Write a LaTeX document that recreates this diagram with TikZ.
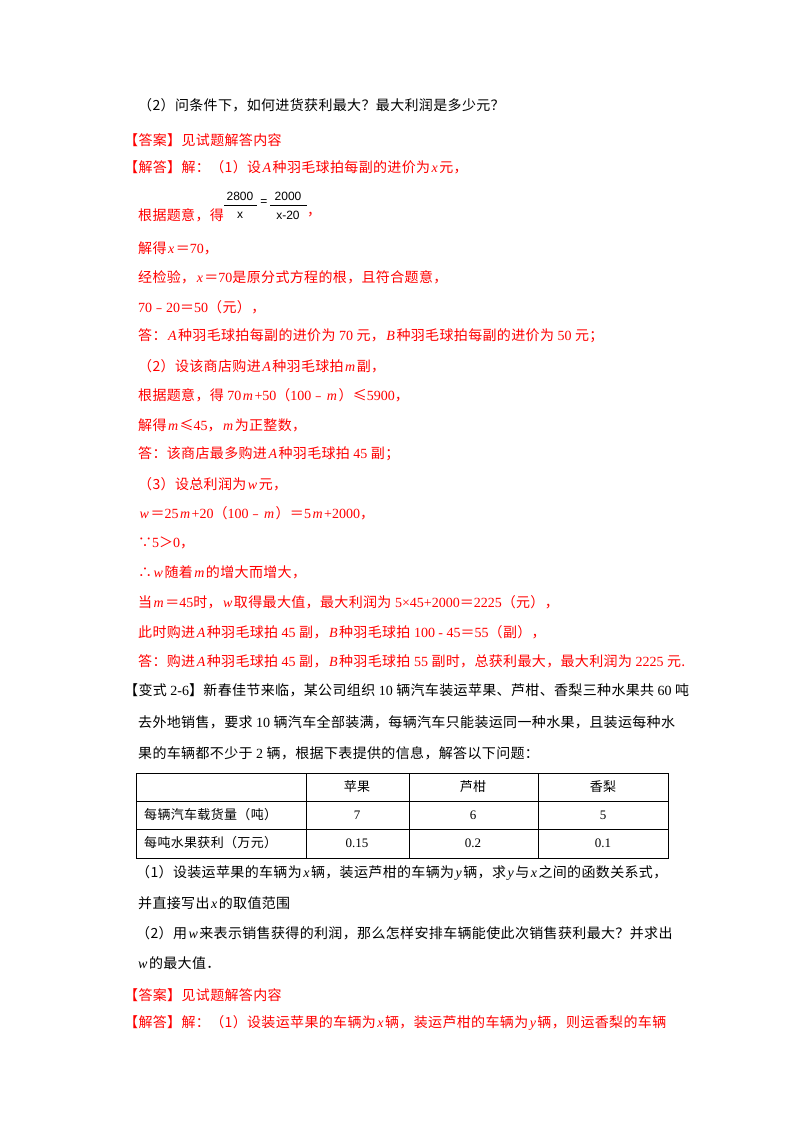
\documentclass[tikz,border=0pt]{standalone}
\usepackage{fontspec}
\setmainfont[LetterSpace=2.5]{Noto Sans CJK SC}
\newfontfamily\tn{Liberation Serif}
\newfontfamily\sn{Liberation Sans}
\newcommand\I[1]{\kern1.5pt{\tn\itshape #1}\kern1.5pt}
\newcommand\N[1]{{\tn #1}}
\definecolor{ans}{RGB}{255,0,0}
\tikzset{ln/.style={anchor=west,inner sep=0pt,font=\fontsize{14}{16}\selectfont},
 rd/.style={ln,text=ans}, cell/.style={inner sep=0pt,font=\fontsize{13}{15}\selectfont}}
\begin{document}
\begin{tikzpicture}[x=1pt,y=-1pt]
\useasboundingbox (0,0) rectangle (800,1132);
\node[ln] (l1) at (138,105) {（2）问条件下，如何进货获利最大？最大利润是多少元？};
\node[rd] (l2) at (124,140) {【答案】见试题解答内容};
\node[rd] (l3) at (124,167) {【解答】解：（1）设\I{A}种羽毛球拍每副的进价为\I{x}元，};
\node[rd] (l4) at (138,215) {根据题意，得};
\begin{scope}[every node/.style={inner sep=0pt,font=\sn\fontsize{12}{14}\selectfont}]
\node (n1) at (240,196) {2800};
\node (d1) at (240,215) {x};
\node (eq) at (264,203) {=};
\node (n2) at (288,196) {2000};
\node (d2) at (288,215) {x-20};
\node[text=ans,font=\fontsize{14}{16}\selectfont] (cm) at (314,215) {，};
\draw[line width=0.6pt] (224,205) -- (257,205) (270,205) -- (307,205);
\end{scope}
\node[rd] at (138,248) {解得\I{x}＝\N{70}，};
\node[rd] at (138,277) {经检验，\I{x}＝\N{70}是原分式方程的根，且符合题意，};
\node[rd] at (138,307) {\N{70}﹣\N{20}＝\N{50}（元），};
\node[rd] at (138,336) {答：\I{A}种羽毛球拍每副的进价为\N{ 70 }元，\I{B}种羽毛球拍每副的进价为\N{ 50 }元；};
\node[rd] at (138,366) {（2）设该商店购进\I{A}种羽毛球拍\I{m}副，};
\node[rd] at (138,395) {根据题意，得\N{ 70}\I{m}\N{+50}（\N{100}﹣\I{m}）≤\N{5900}，};
\node[rd] at (138,425) {解得\I{m}≤\N{45}，\I{m}为正整数，};
\node[rd] at (138,454) {答：该商店最多购进\I{A}种羽毛球拍\N{ 45 }副；};
\node[rd] at (138,484) {（3）设总利润为\I{w}元，};
\node[rd] at (138,513) {\I{w}＝\N{25}\I{m}\N{+20}（\N{100}﹣\I{m}）＝\N{5}\I{m}\N{+2000}，};
\node[rd] at (138,543) {∵\N{5}＞\N{0}，};
\node[rd] at (138,572) {∴\I{w}随着\I{m}的增大而增大，};
\node[rd] at (138,602) {当\I{m}＝\N{45}时，\I{w}取得最大值，最大利润为\N{ 5×45+2000}＝\N{2225}（元），};
\node[rd] at (138,632) {此时购进\I{A}种羽毛球拍\N{ 45 }副，\I{B}种羽毛球拍\N{ 100 - 45}＝\N{55}（副），};
\node[rd] at (138,661) {答：购进\I{A}种羽毛球拍\N{ 45 }副，\I{B}种羽毛球拍\N{ 55 }副时，总获利最大，最大利润为\N{ 2225 }元.};
\node[ln] at (124,690) {【变式\N{ 2-6}】新春佳节来临，某公司组织\N{ 10 }辆汽车装运苹果、芦柑、香梨三种水果共\N{ 60 }吨};
\node[ln] at (138,722) {去外地销售，要求\N{ 10 }辆汽车全部装满，每辆汽车只能装运同一种水果，且装运每种水};
\node[ln] at (138,753) {果的车辆都不少于\N{ 2 }辆，根据下表提供的信息，解答以下问题：};
% table
\draw[line width=0.7pt] (136,773) rectangle (668,858);
\draw[line width=0.7pt] (136,801) -- (668,801) (136,829) -- (668,829)
 (306,773) -- (306,858) (409,773) -- (409,858) (538,773) -- (538,858);
\node[cell] (h1) at (357,787) {苹果};
\node[cell] (h2) at (473,787) {芦柑};
\node[cell] (h3) at (603,787) {香梨};
\node[cell,anchor=west] (r1) at (144,815) {每辆汽车载货量（吨）};
\node[cell] (a1) at (357,815) {\N{7}};
\node[cell] (a2) at (473,815) {\N{6}};
\node[cell] (a3) at (603,815) {\N{5}};
\node[cell,anchor=west] (r2) at (144,843) {每吨水果获利（万元）};
\node[cell] (b1) at (357,843) {\N{0.15}};
\node[cell] (b2) at (473,843) {\N{0.2}};
\node[cell] (b3) at (603,843) {\N{0.1}};
\node[ln] at (136,873) {（1）设装运苹果的车辆为\I{x}辆，装运芦柑的车辆为\I{y}辆，求\I{y}与\I{x}之间的函数关系式，};
\node[ln] at (138,903) {并直接写出\I{x}的取值范围};
\node[ln] at (136,933) {（2）用\I{w}来表示销售获得的利润，那么怎样安排车辆能使此次销售获利最大？并求出};
\node[ln] at (138,963) {{\tn\itshape w}\kern1.5pt 的最大值．};
\node[rd] at (124,995) {【答案】见试题解答内容};
\node[rd] at (124,1023) {【解答】解：（1）设装运苹果的车辆为\I{x}辆，装运芦柑的车辆为\I{y}辆，则运香梨的车辆};
\end{tikzpicture}
\end{document}
